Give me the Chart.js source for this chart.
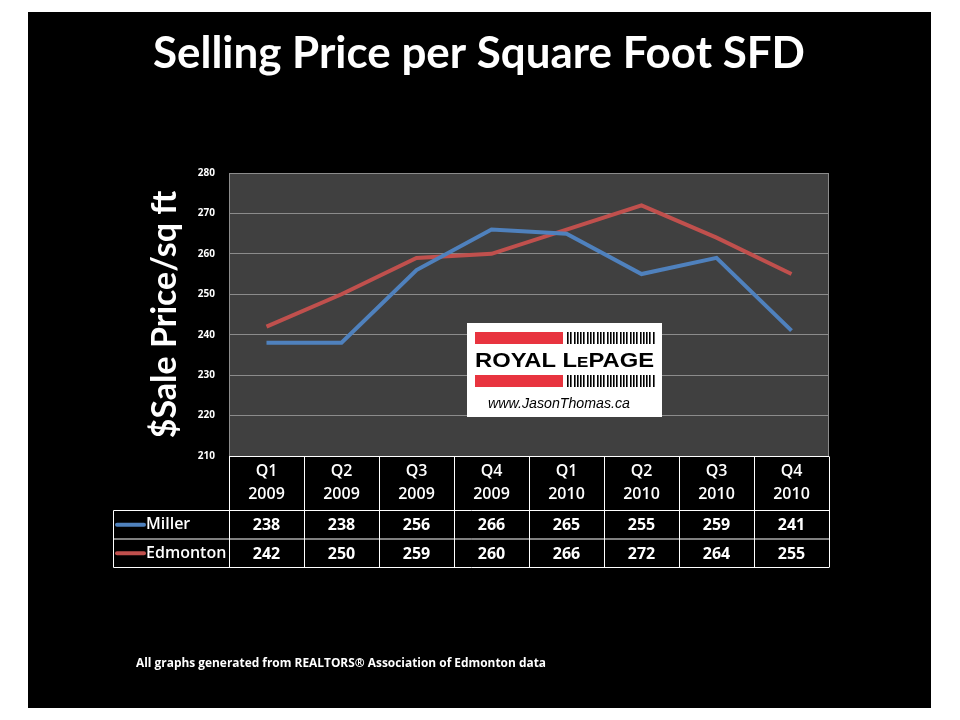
<!DOCTYPE html>
<html>
<head>
<meta charset="utf-8">
<style>
  html, body { margin: 0; padding: 0; background: #fff; }
  #wrap { width: 960px; height: 720px; }
</style>
</head>
<body>
<div id="wrap"><canvas id="chart" width="960" height="720"></canvas></div>
<script src="https://cdn.jsdelivr.net/npm/chart.js@4/dist/chart.umd.min.js"></script>
<script>
const quarters = ["Q1", "Q2", "Q3", "Q4", "Q1", "Q2", "Q3", "Q4"];
const years = ["2009", "2009", "2009", "2009", "2010", "2010", "2010", "2010"];
const millerValues = [238, 238, 256, 266, 265, 255, 259, 241];
const edmontonValues = [242, 250, 259, 260, 266, 272, 264, 255];
const seriesNames = ["Miller", "Edmonton"];
const seriesColors = ["#4f81bd", "#c0504d"];

const titleText = "Selling Price per Square Foot SFD";
const yTitle = "$Sale Price/sq ft";
const footText = "All graphs generated from REALTORS\u00ae Association of Edmonton data";

const ctx = document.getElementById("chart");

// draw text squeezed/stretched to a given width
function fitText(c, text, x, y, width) {
  const w = c.measureText(text).width;
  c.save();
  c.translate(x, y);
  c.scale(width / w, 1);
  c.fillText(text, 0, 0);
  c.restore();
}

// black slide, plot background and frame
const slidePlugin = {
  id: "slide",
  beforeDraw(chart) {
    const c = chart.ctx;
    const a = chart.chartArea;
    c.save();
    c.fillStyle = "#fff";
    c.fillRect(0, 0, chart.width, chart.height);
    c.fillStyle = "#000";
    c.fillRect(28, 12, 903, 696);
    c.fillStyle = "#404040";
    c.fillRect(a.left, a.top, a.right - a.left, a.bottom - a.top);

    c.fillStyle = "#fff";
    c.font = "bold 44px Lato";
    c.textAlign = "left";
    c.textBaseline = "alphabetic";
    fitText(c, titleText, 153, 68, 652);

    c.font = "bold 12px 'Open Sans'";
    fitText(c, footText, 136, 667, 410);
    c.restore();
  },
  afterDraw(chart) {
    const c = chart.ctx;
    const a = chart.chartArea;
    c.save();
    c.strokeStyle = "#8c8c8c";
    c.lineWidth = 1;
    c.beginPath();
    c.moveTo(a.left + 0.5, a.bottom);
    c.lineTo(a.left + 0.5, a.top + 0.5);
    c.lineTo(a.right - 0.5, a.top + 0.5);
    c.lineTo(a.right - 0.5, a.bottom);
    c.stroke();
    c.restore();
  }
};

// data table under the plot
const tablePlugin = {
  id: "dataTable",
  afterDraw(chart) {
    const c = chart.ctx;
    const a = chart.chartArea;
    const xs = chart.scales.x;
    const colW = (a.right - a.left) / quarters.length;
    const headTop = Math.round(a.bottom) + 0.5;
    const headBottom = headTop + 54;
    const rowH = 28.5;
    const legLeft = 113.5;
    const tableBottom = headBottom + rowH * 2;

    c.save();
    c.strokeStyle = "#fff";
    c.lineWidth = 1;
    c.beginPath();
    c.moveTo(a.left, headTop);
    c.lineTo(a.right, headTop);
    c.moveTo(legLeft, headBottom);
    c.lineTo(a.right, headBottom);
    c.moveTo(legLeft, headBottom + rowH);
    c.lineTo(a.right, headBottom + rowH);
    c.moveTo(legLeft, tableBottom);
    c.lineTo(a.right, tableBottom);
    c.moveTo(legLeft, headBottom);
    c.lineTo(legLeft, tableBottom);
    for (let i = 0; i <= quarters.length; i++) {
      const x = Math.round(a.left + i * colW) + 0.5;
      c.moveTo(x, headTop);
      c.lineTo(x, tableBottom);
    }
    c.stroke();

    c.fillStyle = "#fff";
    c.textAlign = "center";
    c.textBaseline = "middle";
    c.font = "600 16px 'Open Sans'";
    quarters.forEach((q, i) => {
      const cx = xs.getPixelForValue(i);
      c.fillText(q, cx, headTop + 15);
      c.fillText(years[i], cx, headTop + 38);
    });

    const rows = [millerValues, edmontonValues];
    rows.forEach((vals, r) => {
      const cy = headBottom + rowH * r + rowH / 2;
      c.font = "bold 16px 'Open Sans'";
      c.textAlign = "center";
      vals.forEach((v, i) => {
        c.fillText(String(v), xs.getPixelForValue(i), cy + 1);
      });
      c.strokeStyle = seriesColors[r];
      c.lineWidth = 4;
      c.lineCap = "round";
      c.beginPath();
      c.moveTo(117, cy);
      c.lineTo(144, cy);
      c.stroke();
      c.textAlign = "left";
      c.font = "600 16px 'Open Sans'";
      c.fillText(seriesNames[r], 146, cy);
    });
    c.restore();
  }
};

// Royal LePage logo box over the plot
const logoPlugin = {
  id: "logo",
  afterDatasetsDraw(chart) {
    const c = chart.ctx;
    c.save();
    c.fillStyle = "#fff";
    c.fillRect(467, 323, 195, 94);
    c.fillStyle = "#e8343f";
    c.fillRect(475, 332, 88, 12);
    c.fillRect(475, 375, 88, 12);
    c.fillStyle = "#000";
    for (let x = 567; x < 654; x += 3.3) {
      c.fillRect(Math.round(x), 332, 1.6, 12);
      c.fillRect(Math.round(x), 375, 1.6, 12);
    }
    c.textBaseline = "alphabetic";
    c.textAlign = "left";
    // ROYAL LePAGE with small-cap E, stretched to the bar width
    c.font = "bold 21px 'Liberation Sans'";
    const w1 = c.measureText("ROYAL L").width;
    const w3 = c.measureText("PAGE").width;
    c.font = "bold 15px 'Liberation Sans'";
    const w2 = c.measureText("E").width;
    const k = 179 / (w1 + w2 + w3);
    c.save();
    c.translate(475, 367);
    c.scale(k, 1);
    c.font = "bold 21px 'Liberation Sans'";
    c.fillText("ROYAL L", 0, 0);
    c.font = "bold 15px 'Liberation Sans'";
    c.fillText("E", w1, 0);
    c.font = "bold 21px 'Liberation Sans'";
    c.fillText("PAGE", w1 + w2, 0);
    c.restore();
    c.font = "italic 14px 'Liberation Sans'";
    fitText(c, "www.JasonThomas.ca", 488, 408, 142);
    c.restore();
  }
};

const myChart = new Chart(ctx, {
  type: "line",
  data: {
    labels: quarters.map((q, i) => q + " " + years[i]),
    datasets: [
      {
        label: seriesNames[0],
        data: millerValues,
        borderColor: seriesColors[0],
        backgroundColor: seriesColors[0],
        borderWidth: 4,
        pointRadius: 0,
        tension: 0,
      },
      {
        label: seriesNames[1],
        data: edmontonValues,
        borderColor: seriesColors[1],
        backgroundColor: seriesColors[1],
        borderWidth: 4,
        pointRadius: 0,
        tension: 0,
      },
    ],
  },
  options: {
    responsive: false,
    animation: false,
    events: [],
    layout: {
      padding: { left: 113, top: 173, right: 131, bottom: 264 },
    },
    plugins: {
      legend: { display: false },
      title: { display: false },
      tooltip: { enabled: false },
    },
    scales: {
      x: {
        display: false,
        offset: true,
      },
      y: {
        min: 210,
        max: 280,
        afterFit(scale) {
          scale.width = 116;
        },
        ticks: {
          stepSize: 10,
          color: "#fff",
          padding: 14,
          font: { family: "'Open Sans'", size: 10, weight: "bold" },
        },
        grid: {
          color: "#8c8c8c",
          lineWidth: 1,
          drawTicks: false,
        },
        border: { display: false },
        title: {
          display: true,
          text: yTitle,
          color: "#fff",
          padding: { top: 32, bottom: 0 },
          font: { family: "Lato", size: 34, weight: "bold" },
        },
      },
    },
  },
  plugins: [slidePlugin, logoPlugin, tablePlugin],
});
</script>
</body>
</html>
